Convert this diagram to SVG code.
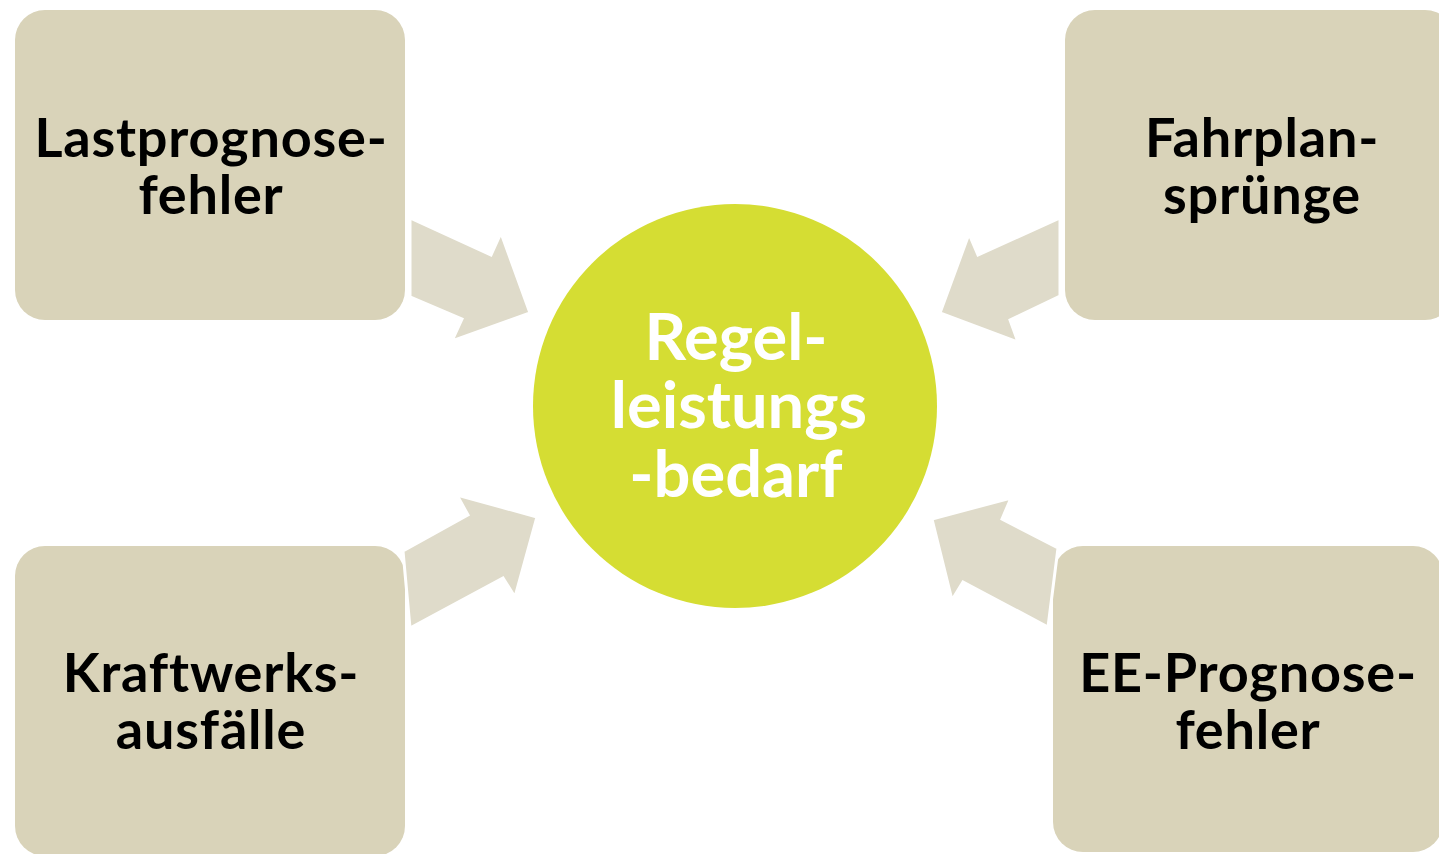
<svg xmlns="http://www.w3.org/2000/svg" width="1439" height="854" viewBox="0 0 1439 854">
<style>
.box{fill:#D9D3B9;}
.arrow{fill:#DFDBCA;stroke:#FFFFFF;stroke-width:3;stroke-linejoin:miter;}
.lbl{font-family:Lato,"Open Sans","Liberation Sans",sans-serif;font-weight:bold;font-size:54px;fill:#000000;text-anchor:middle;letter-spacing:0.8px;}
.clbl{font-family:Lato,"Open Sans","Liberation Sans",sans-serif;font-weight:bold;font-size:65px;fill:#FFFFFF;text-anchor:middle;}
</style>
<rect width="1439" height="854" fill="#FFFFFF"/>
<g id="node-lastprognose">
<rect class="box" x="15" y="10" width="390" height="310" rx="30"/>
<text class="lbl" x="211" y="157">Lastprognose-</text>
<text class="lbl" x="211" y="214">fehler</text>
</g>
<g id="node-fahrplan">
<rect class="box" x="1065" y="10" width="390" height="310" rx="30"/>
<text class="lbl" x="1262" y="157" letter-spacing="2px">Fahrplan-</text>
<text class="lbl" x="1262" y="214" letter-spacing="2px">sprünge</text>
</g>
<g id="node-kraftwerk">
<rect class="box" x="15" y="546" width="390" height="310" rx="30"/>
<text class="lbl" x="211" y="692">Kraftwerks-</text>
<text class="lbl" x="211" y="749">ausfälle</text>
</g>
<g id="node-ee">
<rect class="box" x="1053" y="546" width="390" height="306" rx="30"/>
<text class="lbl" x="1248" y="692">EE-Prognose-</text>
<text class="lbl" x="1248" y="749">fehler</text>
</g>
<g id="connectors">
<polygon class="arrow" points="410,218 491,255 501,233 530,313 452,341 462,319 410,297"/>
<polygon class="arrow" points="1060,218 978,255 969,234 940,313 1018,342 1010,320 1060,296"/>
<polygon class="arrow" points="403,551 468,515 457,495 537,517 515,597 503,578 410,628"/>
<polygon class="arrow" points="1058,548 1002,519 1011,498 932,519 952,600 963,582 1048,627"/>
</g>
<g id="node-center">
<circle cx="735" cy="406" r="202" fill="#D5DD33"/>
<text class="clbl" x="736" y="360">Regel-</text>
<text class="clbl" x="739" y="428">leistungs</text>
<text class="clbl" x="736" y="497">-bedarf</text>
</g>
</svg>
